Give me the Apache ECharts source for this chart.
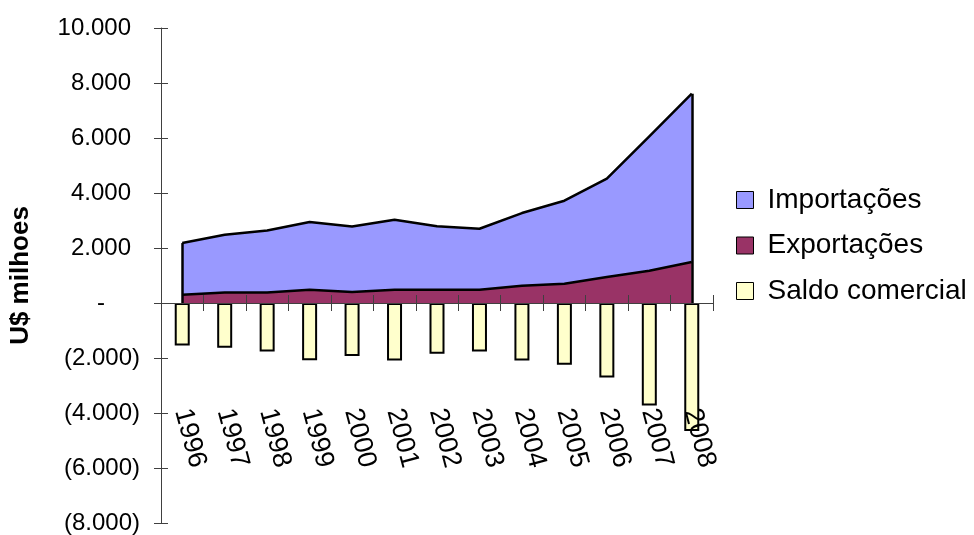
<!DOCTYPE html>
<html>
<head>
<meta charset="utf-8">
<script src="https://cdn.jsdelivr.net/npm/echarts@6/dist/echarts.min.js"></script>
<style>
  html, body { margin: 0; padding: 0; background: #fff; }
  #chart { width: 974px; height: 535px; }
</style>
</head>
<body>
<div id="chart"></div>
<script>
// Trade balance series, US$ millions
const years = ['1996', '1997', '1998', '1999', '2000', '2001', '2002', '2003', '2004', '2005', '2006', '2007', '2008'];
const exportacoes = [300, 385, 385, 485, 400, 480, 480, 480, 630, 700, 945, 1175, 1490];
// imports are stacked on top of exports
const importacoes = [1880, 2095, 2255, 2460, 2385, 2550, 2310, 2220, 2640, 3020, 3575, 4885, 6120];
const saldoComercial = [-1545, -1625, -1760, -2085, -1930, -2090, -1845, -1760, -2090, -2245, -2705, -3725, -4655];
const yMin = -8000;
const yMax = 10000;
const yStep = 2000;

const FONT = '"Liberation Sans", Arial, sans-serif';
const AXIS_COLOR = '#404040';
const LABEL_SIZE = 24;

// accounting style: 2.000 / - / (2.000), numbers aligned on the closing parenthesis
function fmtValue(v) {
  if (v === 0) return '{z|-}';
  const s = Math.abs(v).toString().replace(/\B(?=(\d{3})+(?!\d))/g, '.');
  return v < 0 ? '{n|(' + s + ')}' : '{p|' + s + '}';
}
const labelToken = { fontFamily: FONT, fontSize: LABEL_SIZE, color: '#000' };

const last = years.length - 1;
const edgeLines = [
  [{ coord: [years[0], 0] }, { coord: [years[0], exportacoes[0] + importacoes[0]] }],
  [{ coord: [years[last], 0] }, { coord: [years[last], exportacoes[last] + importacoes[last]] }]
];

const chart = echarts.init(document.getElementById('chart'), null, { renderer: 'canvas' });
chart.setOption({
  animation: false,
  backgroundColor: '#fff',
  textStyle: { fontFamily: FONT },
  grid: { left: 161, right: 261, top: 28, bottom: 12, containLabel: false, outerBoundsMode: 'none' },
  legend: {
    orient: 'vertical',
    left: 731,
    top: 180,
    icon: 'rect',
    itemWidth: 17,
    itemHeight: 17,
    itemGap: 15.5,
    data: ['Importações', 'Exportações', 'Saldo comercial'],
    itemStyle: { borderColor: '#000', borderWidth: 1 },
    textStyle: { fontFamily: FONT, fontSize: 28, color: '#000', lineHeight: 30, padding: [0, 0, 0, 9] }
  },
  xAxis: [
    {
      type: 'category',
      data: years,
      boundaryGap: true,
      z: 5,
      axisLine: { onZero: true, lineStyle: { color: AXIS_COLOR, width: 1 } },
      axisTick: { show: true, length: 8, lineStyle: { color: AXIS_COLOR } },
      axisLabel: { rotate: -75, margin: -114, fontSize: 27, color: '#000', fontFamily: FONT, interval: 0 },
      splitLine: { show: false }
    },
    {
      type: 'category',
      data: years,
      position: 'bottom',
      boundaryGap: true,
      z: 5,
      axisLine: { show: false, onZero: true },
      axisTick: { show: true, inside: true, length: 8, lineStyle: { color: AXIS_COLOR } },
      axisLabel: { show: false },
      splitLine: { show: false }
    }
  ],
  yAxis: [
    {
      type: 'value',
      min: yMin,
      max: yMax,
      interval: yStep,
      name: 'U$ milhoes',
      nameLocation: 'middle',
      nameGap: 127,
      nameTextStyle: { fontFamily: FONT, fontSize: 26, fontWeight: 'bold', color: '#000' },
      axisLine: { show: true, lineStyle: { color: AXIS_COLOR, width: 1 } },
      axisTick: { show: true, length: 7, lineStyle: { color: AXIS_COLOR } },
      axisLabel: {
        formatter: fmtValue,
        margin: 21,
        fontSize: LABEL_SIZE,
        color: '#000',
        fontFamily: FONT,
        rich: {
          p: Object.assign({ padding: [0, 9, 0, 0] }, labelToken),
          n: Object.assign({}, labelToken),
          z: Object.assign({ padding: [0, 35, 0, 0] }, labelToken)
        }
      },
      splitLine: { show: false }
    },
    {
      type: 'value',
      position: 'left',
      min: yMin,
      max: yMax,
      interval: yStep,
      axisLine: { show: false },
      axisTick: { show: true, inside: true, length: 7, lineStyle: { color: AXIS_COLOR } },
      axisLabel: { show: false },
      splitLine: { show: false }
    }
  ],
  series: [
    {
      name: 'Saldo comercial',
      type: 'bar',
      data: saldoComercial,
      barWidth: 15,
      itemStyle: { color: '#FFFFCC', borderColor: '#000', borderWidth: 2 },
      z: 1
    },
    {
      name: 'Exportações',
      type: 'line',
      stack: 'comercio',
      data: exportacoes,
      showSymbol: false,
      symbol: 'none',
      lineStyle: { color: '#000', width: 2.5 },
      itemStyle: { color: '#993366' },
      areaStyle: { color: '#993366', opacity: 1 },
      z: 3
    },
    {
      name: 'Importações',
      type: 'line',
      stack: 'comercio',
      data: importacoes,
      showSymbol: false,
      symbol: 'none',
      lineStyle: { color: '#000', width: 2.5 },
      itemStyle: { color: '#9999FF' },
      areaStyle: { color: '#9999FF', opacity: 1 },
      z: 2,
      markLine: {
        silent: true,
        symbol: ['none', 'none'],
        label: { show: false },
        lineStyle: { color: '#000', width: 2.5, type: 'solid' },
        data: edgeLines
      }
    }
  ]
});
</script>
</body>
</html>
